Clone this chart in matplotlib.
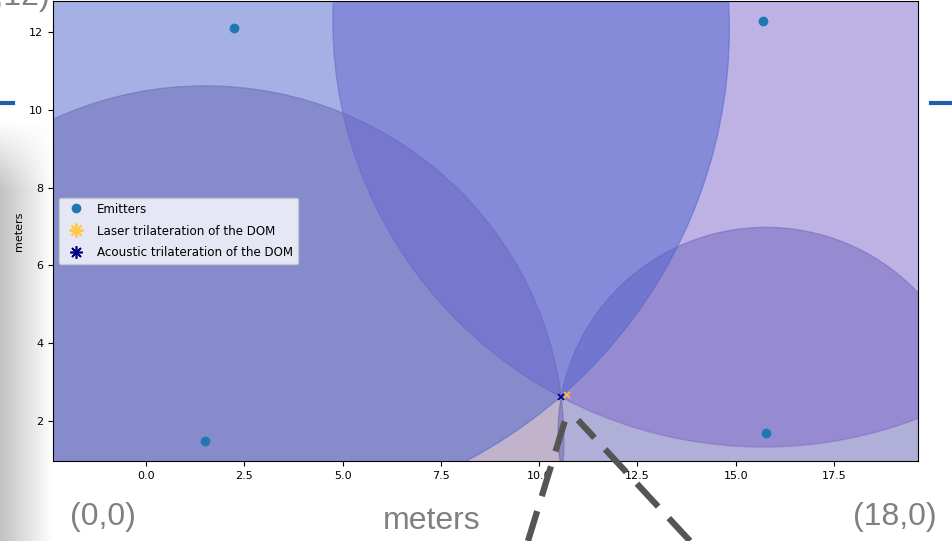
import numpy as np
import matplotlib
matplotlib.use("Agg")
import matplotlib.pyplot as plt
from matplotlib.patches import Circle
from matplotlib.lines import Line2D

# emitter positions (m) and the ranges measured to the DOM
# order: bottom-left, bottom-right, top-right, top-left (drawing order)
emit_x = [1.5, 15.77, 15.7, 2.24]
emit_y = [1.49, 1.69, 12.28, 12.1]
ranges = [9.13, 5.29, 10.95, 12.6]
circle_colors = ["#84699a", "#6161b3", "#7f67cb", "#4d65cd"]

laser_pos = (10.71, 2.67)
acoustic_pos = (10.56, 2.62)

xticks = [0.0, 2.5, 5.0, 7.5, 10.0, 12.5, 15.0, 17.5]
yticks = [2, 4, 6, 8, 10, 12]

fig = plt.figure(figsize=(9.52, 5.41), dpi=100)

# slide shadow on the left, fading in at the top
bg = fig.add_axes([0, 0, 0.055, 0.78], zorder=0)
shade = np.linspace(0.76, 1.0, 64)
img = np.ones((100, 64, 4))
img[:, :, 0] = shade[None, :]
img[:, :, 1] = shade[None, :]
img[:, :, 2] = shade[None, :]
img[:, :, 3] = np.clip(np.linspace(0, 6, 100), 0, 1)[:, None]
bg.imshow(img, aspect="auto", extent=[0, 1, 0, 1], origin="upper")
bg.axis("off")

ax = fig.add_axes([0.0557, 0.1479, 0.9086, 0.8501], zorder=2)

for x, y, r, c in zip(emit_x, emit_y, ranges, circle_colors):
    ax.add_patch(Circle((x, y), r, color=c, alpha=0.5, zorder=1))

ax.plot(emit_x, emit_y, "o", color="#1f77b4", markersize=6, zorder=3)
ax.plot(*laser_pos, "x", color="#ffbb33", markersize=5, mew=1.2, zorder=4)
ax.plot(*acoustic_pos, "x", color="navy", markersize=5, mew=1.2, zorder=4)

ax.set_xlim(-2.37, 19.64)
ax.set_ylim(0.97, 12.8)
ax.set_xticks(xticks)
ax.set_yticks(yticks)
ax.tick_params(labelsize=8)
ax.set_ylabel("meters", fontsize=8)

handles = [
    Line2D([], [], marker="o", ls="", color="#1f77b4", markersize=6),
    Line2D([], [], marker=(8, 2, 0), ls="", color="#ffc94d", markersize=10, mew=1.5),
    Line2D([], [], marker=(8, 2, 0), ls="", color="navy", markersize=9, mew=1.2),
]
ax.legend(handles, ["Emitters", "Laser trilateration of the DOM", "Acoustic trilateration of the DOM"],
          loc="center left", fontsize=8.6, labelspacing=0.75)

# slide annotations around the figure
over = fig.add_axes([0, 0, 1, 1], zorder=3)
over.set_xlim(0, 952)
over.set_ylim(541, 0)
over.axis("off")
over.patch.set_alpha(0)
over.plot([528, 567], [541, 414], ls=(0, (5, 2.5)), lw=4.5, color="#555555")
over.plot([690, 578], [541, 420], ls=(0, (5, 2.5)), lw=4.5, color="#555555")
over.plot([0, 13], [103, 103], lw=3, color="#1f5fa8")
over.plot([931, 952], [103, 103], lw=3, color="#1f5fa8")

fam = ["Liberation Sans", "DejaVu Sans"]
over.text(103, 517, "(0,0)", fontsize=23, color="#808080", ha="center", va="center", family=fam)
over.text(432, 521, "meters", fontsize=23, color="#808080", ha="center", va="center", family=fam)
over.text(895, 517, "(18,0)", fontsize=23, color="#808080", ha="center", va="center", family=fam)
over.text(50, -3, "(0,12)", fontsize=23, color="#808080", ha="right", va="center", family=fam)

fig.savefig("out.png", dpi=100)
